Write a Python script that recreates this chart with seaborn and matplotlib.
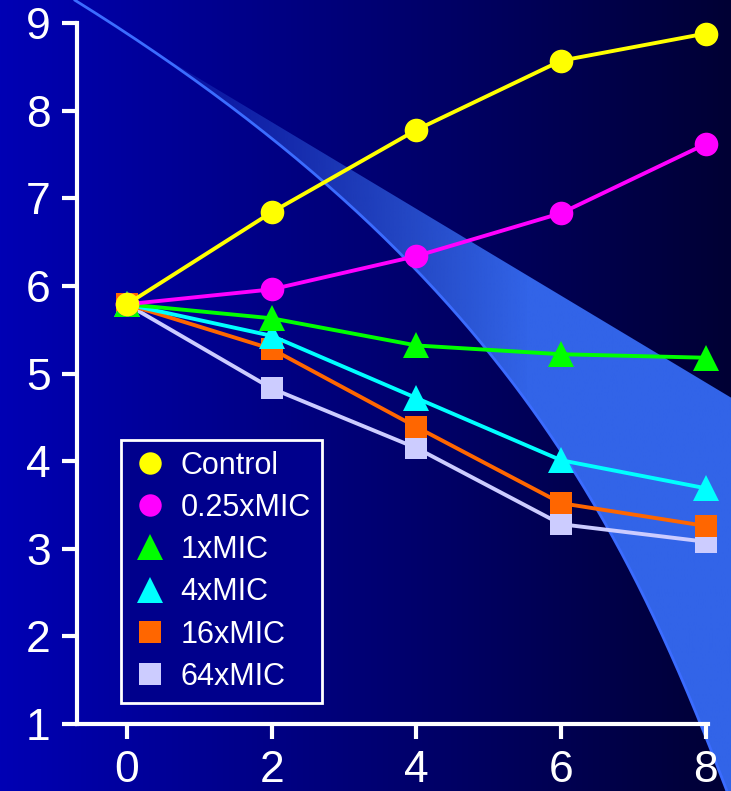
import numpy as np
import pandas as pd
import seaborn as sns
import matplotlib.pyplot as plt
from matplotlib.lines import Line2D
from matplotlib.patches import Polygon

# data (time in h, log10 CFU/ml)
hours = [0, 2, 4, 6, 8]
control = [5.79, 6.84, 7.78, 8.57, 8.88]
mic_025 = [5.79, 5.96, 6.34, 6.83, 7.62]
mic_1 = [5.79, 5.63, 5.32, 5.22, 5.18]
mic_4 = [5.79, 5.43, 4.72, 4.01, 3.69]
mic_16 = [5.79, 5.28, 4.39, 3.52, 3.26]
mic_64 = [5.79, 4.83, 4.15, 3.28, 3.08]

labels = ["Control", "0.25xMIC", "1xMIC", "4xMIC", "16xMIC", "64xMIC"]
values = [control, mic_025, mic_1, mic_4, mic_16, mic_64]
colors = ["#ffff00", "#ff00ff", "#00ff00", "#00ffff", "#ff6600", "#ccccff"]
markers = ["o", "o", "^", "^", "s", "s"]
msizes = [17, 17, 19, 19, 16, 16]

df = pd.DataFrame({
    "hours": hours * len(labels),
    "value": sum(values, []),
    "series": [lab for lab in labels for _ in hours],
})

sns.set_theme(style="ticks")
plt.rcParams["font.family"] = ["Liberation Sans", "DejaVu Sans"]

W, H = 731, 791
fig = plt.figure(figsize=(W / 100, H / 100), dpi=100)

# background: horizontal blue gradient + decorative light band
bg = fig.add_axes([0, 0, 1, 1], zorder=0)
bg.set_xlim(0, W)
bg.set_ylim(H, 0)
bg.axis("off")
grad = np.linspace(0, 1, 256)
left = np.array([0, 0, 0xb4]) / 255
right = np.array([0, 0, 0x34]) / 255
img = left[None, :] * (1 - grad[:, None]) + right[None, :] * grad[:, None]
bg.imshow(img[None, :, :], extent=[0, W, H, 0], aspect="auto", zorder=0)

# band edges (pixel space): curved lower edge and straight upper edge
cy = np.array([0, 118, 180, 300, 342, 460, 600, 690, 791])
cx = np.array([72, 250, 323, 443, 480, 560, 650, 690, 724])
coef = np.polyfit(cy, cx, 3)
yy = np.linspace(0, H, 300)
xx = np.polyval(coef, yy)
upper = lambda x: 97 + 0.6 * (x - 230)
start = np.argmin(np.abs(xx - (230 + (yy - 97) / 0.6)))
poly = list(zip(xx[start:], yy[start:])) + [(W + 5, H), (W + 5, upper(W + 5)), (xx[start], yy[start])]
patch = Polygon(poly, closed=True, facecolor="none", edgecolor="none")
bg.add_patch(patch)
band = np.zeros((2, 256, 4))
band[..., 0] = 50 / 255
band[..., 1] = 100 / 255
band[..., 2] = 232 / 255
band[..., 3] = np.clip(0.15 + (np.linspace(0, W, 256) - 170) / 420, 0.15, 1.0)
im = bg.imshow(band, extent=[0, W, H, 0], aspect="auto", zorder=1)
im.set_clip_path(patch)
bg.plot(xx, yy, color="#3b6cff", lw=2, zorder=2)

# main axes
ax = fig.add_axes([77 / W, 1 - 724 / H, (708 - 77) / W, (724 - 23) / H], zorder=1)
ax.set_facecolor("none")
for i in reversed(range(len(labels))):
    sns.lineplot(data=df[df["series"] == labels[i]], x="hours", y="value",
                 color=colors[i], marker=markers[i], markersize=msizes[i],
                 markeredgewidth=0, linewidth=2.8, ax=ax, legend=False, clip_on=False)

ax.set_xlim(-0.69, 8.03)
ax.set_ylim(1, 9)
ax.set_xticks(hours)
ax.set_yticks(range(1, 10))
ax.set_xlabel("")
ax.set_ylabel("")
sns.despine(ax=ax)
for s in ["left", "bottom"]:
    ax.spines[s].set_color("white")
    ax.spines[s].set_linewidth(3)
ax.tick_params(colors="white", labelcolor="white", labelsize=32,
               length=11, width=3, pad=8, direction="out")

handles = [Line2D([], [], linestyle="none", marker=m, color=c, markersize=s * 0.95,
                  markeredgewidth=0) for m, c, s in zip(markers, colors, msizes)]
leg = ax.legend(handles, labels, loc="upper left", bbox_to_anchor=(121 / W, 1 - 440 / H),
                bbox_transform=fig.transFigure, borderaxespad=0, fontsize=22, frameon=True,
                fancybox=False, facecolor="#00008c", edgecolor="white", framealpha=1,
                labelspacing=0.4, handletextpad=0.4, handlelength=1.2, borderpad=0.35)
leg.get_frame().set_linewidth(2)
for t in leg.get_texts():
    t.set_color("white")

fig.savefig("out.png", dpi=100)
